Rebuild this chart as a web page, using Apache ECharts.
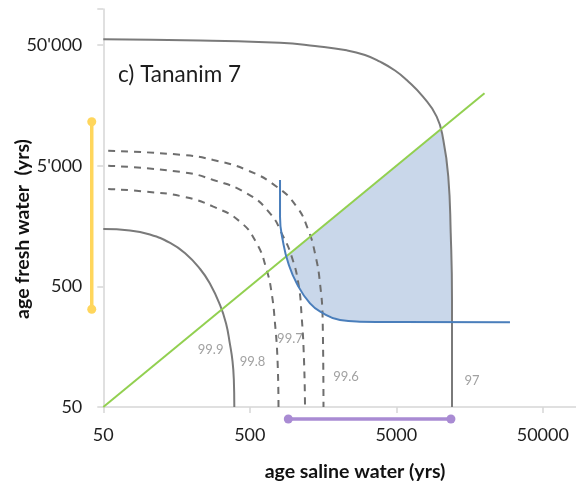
<!DOCTYPE html>
<html>
<head>
<meta charset="utf-8">
<script src="https://cdn.jsdelivr.net/npm/echarts@6/dist/echarts.min.js"></script>
<style>
  html, body { margin: 0; padding: 0; background: #fff; }
  #chart { width: 576px; height: 484px; }
</style>
</head>
<body>
<div id="chart"></div>
<script>
// Both axes are logarithmic, starting at 50 years; one axis unit = one decade.
const AXIS_BASE = 50;
const AXIS_TOP = 100000;

const xTickLabels = ['50', '500', '5000', '50000'];
const yTickLabels = ['50', '500', "5'000", "50'000"];

// Isolines [age saline water, age fresh water] in years
const iso999 = [[50, 1496], [76, 1457], [104, 1347], [143, 1146], [181, 941], [229, 697], [267, 528], [313, 351], [344, 247], [366, 166], [381, 120], [389, 85], [392, 50]];
const iso998 = [[54, 3210], [96, 3060], [176, 2772], [282, 2291], [429, 1720], [557, 1138], [652, 684], [705, 438], [743, 247], [773, 123], [785, 50]];
const iso997 = [[54, 5010], [176, 4415], [282, 3815], [476, 2958], [687, 2018], [847, 1291], [966, 882], [1072, 531], [1130, 280], [1172, 123], [1191, 50]];
const iso996 = [[54, 6670], [176, 6150], [282, 5585], [476, 4615], [763, 3355], [1045, 2291], [1253, 1468], [1393, 940], [1507, 531], [1573, 247], [1592, 50]];
const iso97 = [[50, 55950], [229, 54700], [804, 52450], [1393, 49250], [2291, 45370], [3056, 41470], [3870, 36500], [4899, 30830], [5890, 25700], [7600, 18700], [9430, 12770], [10470, 8190], [11320, 4060], [11760, 1387], [12000, 385], [12000, 50]];

// Equal-age line
const equalAge = [[50, 50], [20000, 20000]];

// Blue constraint curve
const constraint = [[804, 3815], [804, 1892], [847, 1138], [916, 778], [1045, 531], [1288, 362], [1588, 299], [2065, 263], [2824, 255], [5300, 253], [29850, 252]];

// Admissible region: below the equal-age line, above the blue curve, left of the 97 line
const admissible = [[885, 885], [916, 778], [1045, 531], [1288, 362], [1588, 299], [2065, 263], [2824, 255], [5300, 253], [11990, 252], [11760, 1387], [11320, 4060], [10470, 8190], [10000, 10000]];

// Observed ranges drawn beside the axes
const freshRange = [[41.7, 323], [41.7, 11600]];
const salineRange = [[916, 39.8], [11800, 39.8]];

// Isoline labels: [x, y, text]
const isoLabels = [[270, 148, '99.9'], [522, 118, '99.8'], [940, 183, '99.7'], [2270, 89, '99.6'], [16440, 82, '97']];

const toAxis = v => Math.log10(v / AXIS_BASE);
const pt = p => [toAxis(p[0]), toAxis(p[1])];
const decadeLabel = (labels) => (v) => {
  const i = Math.round(v);
  return Math.abs(v - i) < 1e-6 ? (labels[i] || '') : '';
};

const FONT = 'Lato, "Open Sans", sans-serif';
const AXIS_GREY = '#d6d6d6';

function curve(data, color, dashed) {
  return {
    type: 'line',
    data: data.map(pt),
    showSymbol: false,
    smooth: 0.5,
    silent: true,
    lineStyle: { color: color, width: 2, type: dashed ? [7, 6] : 'solid' },
    z: 3
  };
}

// A range bar with round end caps, placed through the axes (may sit outside the plot area)
function rangeBar(data, color) {
  return {
    type: 'custom',
    silent: true,
    clip: false,
    z: 6,
    data: [0],
    renderItem: (params, api) => {
      const a = api.coord(pt(data[0]));
      const b = api.coord(pt(data[1]));
      return {
        type: 'group',
        children: [
          { type: 'line', shape: { x1: a[0], y1: a[1], x2: b[0], y2: b[1] }, style: { stroke: color, lineWidth: 3.5 } },
          { type: 'circle', shape: { cx: a[0], cy: a[1], r: 4.5 }, style: { fill: color } },
          { type: 'circle', shape: { cx: b[0], cy: b[1], r: 4.5 }, style: { fill: color } }
        ]
      };
    }
  };
}

const chart = echarts.init(document.getElementById('chart'), null, { renderer: 'canvas' });

chart.setOption({
  animation: false,
  backgroundColor: '#fff',
  grid: {
    left: 103.3, top: 8.9,
    width: 3.30103 * 146.5, height: 3.30103 * 120.6,
    containLabel: false, outerBoundsMode: 'none'
  },
  xAxis: {
    type: 'value', min: 0, max: toAxis(AXIS_TOP), interval: 1,
    splitLine: { show: false },
    axisLine: { lineStyle: { color: AXIS_GREY, width: 1.5 } },
    axisTick: { show: true, length: 6, inside: false, lineStyle: { color: AXIS_GREY, width: 1.5 } },
    axisLabel: {
      margin: 19, color: '#1e1e1e', fontFamily: FONT, fontSize: 18,
      formatter: decadeLabel(xTickLabels)
    }
  },
  yAxis: {
    type: 'value', min: 0, max: toAxis(AXIS_TOP), interval: 1,
    splitLine: { show: false },
    axisLine: { lineStyle: { color: AXIS_GREY, width: 1.5 } },
    axisTick: { show: true, length: 6, inside: false, lineStyle: { color: AXIS_GREY, width: 1.5 } },
    axisLabel: {
      margin: 21, color: '#1e1e1e', fontFamily: FONT, fontSize: 18,
      formatter: decadeLabel(yTickLabels)
    }
  },
  graphic: [
    {
      type: 'text', x: 118, y: 74.5, silent: true,
      style: { text: 'c) Tananim 7', font: '22.5px ' + FONT, fill: '#1e1e1e', textAlign: 'left', textVerticalAlign: 'middle' }
    },
    {
      type: 'text', x: 355, y: 472, silent: true,
      style: { text: 'age saline water (yrs)', font: 'bold 19.5px ' + FONT, fill: '#111', textAlign: 'center', textVerticalAlign: 'middle' }
    },
    {
      type: 'text', x: 23, y: 229, rotation: Math.PI / 2, silent: true,
      style: { text: 'age fresh water  (yrs)', font: 'bold 19.5px ' + FONT, fill: '#111', textAlign: 'center', textVerticalAlign: 'middle' }
    }
  ],
  series: [
    {
      type: 'custom',
      silent: true,
      z: 1,
      data: [0],
      renderItem: (params, api) => ({
        type: 'polygon',
        shape: { points: admissible.map(p => api.coord(pt(p))) },
        style: { fill: '#c9d7ea', stroke: null }
      })
    },
    curve(iso999, '#7a7a7a', false),
    curve(iso998, '#6e6e6e', true),
    curve(iso997, '#6e6e6e', true),
    curve(iso996, '#6e6e6e', true),
    curve(iso97, '#7a7a7a', false),
    {
      type: 'line', data: equalAge.map(pt), showSymbol: false, silent: true,
      lineStyle: { color: '#92d050', width: 2 }, z: 4
    },
    Object.assign(curve(constraint, '#4a7ebb', false), { z: 5 }),
    rangeBar(freshRange, '#ffd65c'),
    rangeBar(salineRange, '#a98bd3'),
    {
      type: 'scatter', silent: true, symbolSize: 0, z: 7,
      data: isoLabels.map(d => ({ value: pt(d), name: d[2] })),
      label: {
        show: true, position: 'inside', formatter: (p) => p.name,
        color: '#8a8a8a', fontFamily: FONT, fontSize: 13
      }
    }
  ]
});
</script>
</body>
</html>
